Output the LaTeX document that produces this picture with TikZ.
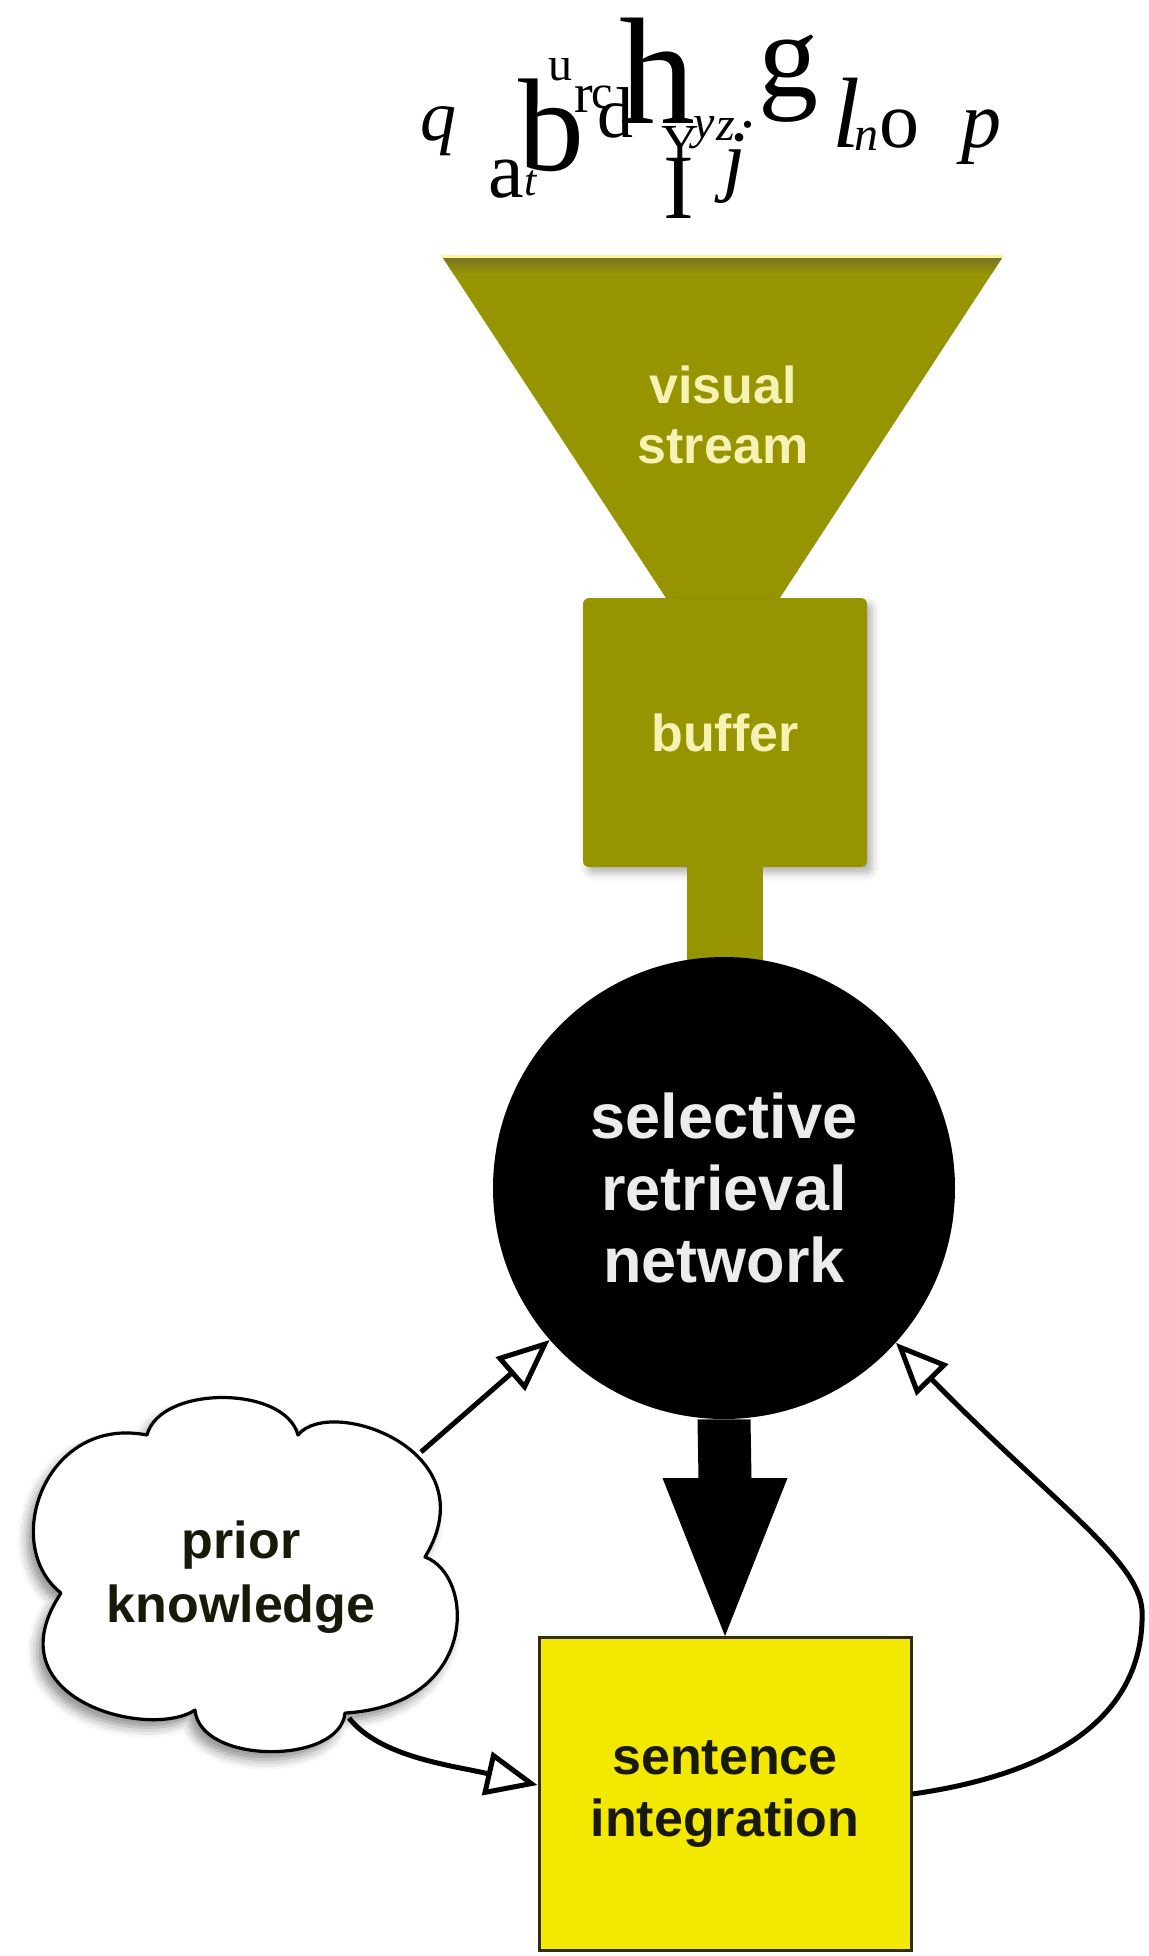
\documentclass[tikz,border=0pt]{standalone}
\usepackage{fontspec}
\setmainfont{Liberation Sans}
\newfontfamily\lserif{Liberation Serif}
\usetikzlibrary{arrows.meta,shadows.blur,calc}
\definecolor{olivebox}{RGB}{150,148,0}
\definecolor{olivedark}{RGB}{118,114,40}
\definecolor{paletop}{RGB}{250,246,160}
\definecolor{paletext}{RGB}{246,242,180}
\definecolor{sentyellow}{RGB}{243,233,0}
\definecolor{boxedge}{RGB}{50,46,0}
\definecolor{circtext}{RGB}{236,236,236}
\definecolor{labdark}{RGB}{25,25,10}
\begin{document}
\begin{tikzpicture}[x=0.5pt,y=-0.5pt,
  glyph/.style={anchor=base, inner sep=0pt, outer sep=0pt, text=black},
  openarrow/.style={line width=2.5pt, draw=black, -{Triangle[open, length=26pt 0 0, width=22pt 0 0]}},
  olivefunnel/.style={fill=olivebox},
  bufferbox/.style={fill=olivebox, rounded corners=3pt, minimum width=142pt, minimum height=134.5pt, inner sep=0pt,
     blur shadow={shadow xshift=2.5pt, shadow yshift=-3pt, shadow opacity=30, shadow blur radius=4pt},
     font=\bfseries\fontsize{26}{30}\selectfont, text=paletext},
  srncircle/.style={circle, fill=black, minimum size=231pt, inner sep=0pt, text=circtext, align=center,
     font=\bfseries\fontsize{31.5}{36}\selectfont},
  sentbox/.style={draw=boxedge, line width=1.5pt, fill=sentyellow, minimum width=186pt, minimum height=156.5pt,
     inner sep=0pt, align=center, text=labdark, font=\bfseries\fontsize{26}{31}\selectfont},
  cloudline/.style={draw=black, line width=1.6pt, line join=round, fill=white,
     blur shadow={shadow xshift=-3pt, shadow yshift=-4pt, shadow opacity=45, shadow blur radius=5pt}},
  cloudtext/.style={align=center, inner sep=0pt, text=labdark, font=\bfseries\fontsize{26}{32}\selectfont},
  funneltext/.style={align=center, inner sep=0pt, text=paletext, font=\bfseries\fontsize{26}{30}\selectfont},
]
\useasboundingbox (0,0) rectangle (1149,1956);

% ---- scattered letters ----
\node[glyph, font=\lserif\itshape\fontsize{36}{36}\selectfont] (lq) at (438,140) {q};
\node[glyph, font=\lserif\fontsize{40}{40}\selectfont] (la) at (506,197) {a};
\node[glyph, font=\lserif\itshape\fontsize{22}{22}\selectfont] (lt) at (531,195) {t};
\node[glyph, font=\lserif\fontsize{66}{66}\selectfont] (lb) at (551,170) {b};
\node[glyph, font=\lserif\fontsize{24}{24}\selectfont] (lu) at (560,80) {u};
\node[glyph, font=\lserif\fontsize{28}{28}\selectfont] (lr) at (584,112) {r};
\node[glyph, font=\lserif\fontsize{24}{24}\selectfont] (lc) at (602,108) {c};
\node[glyph, font=\lserif\fontsize{36}{36}\selectfont] (ld) at (615,137) {d};
\node[glyph, font=\lserif\fontsize{76}{76}\selectfont] (lh) at (657,123) {h};
\node[glyph, font=\lserif\fontsize{26}{26}\selectfont] (lY) at (680,160) {Y};
\node[glyph, font=\lserif\fontsize{46}{46}\selectfont] (lI) at (679,218) {I};
\node[glyph, font=\lserif\itshape\fontsize{24}{24}\selectfont] (ly) at (704,138) {y};
\node[glyph, font=\lserif\itshape\fontsize{24}{24}\selectfont] (lz) at (726,140) {z};
\node[glyph, font=\lserif\fontsize{30}{30}\selectfont] (ldot) at (748,127) {.};
\node[glyph, font=\lserif\itshape\fontsize{40}{40}\selectfont] (lj) at (735,186) {j};
\node[glyph, font=\lserif\fontsize{60}{60}\selectfont] (lg) at (788,96) {g};
\node[glyph, font=\lserif\itshape\fontsize{50}{50}\selectfont] (ll) at (846,147) {l};
\node[glyph, font=\lserif\itshape\fontsize{24}{24}\selectfont] (ln) at (866,150) {n};
\node[glyph, font=\lserif\fontsize{40}{40}\selectfont] (lo) at (899,147) {o};
\node[glyph, font=\lserif\itshape\fontsize{40}{40}\selectfont] (lp) at (981,147) {p};

% ---- funnel ----
\fill[olivefunnel] (443,258) -- (1002,258) -- (723,685) -- cycle;
\begin{scope}
  \clip (443,258) -- (1002,258) -- (723,685) -- cycle;
  \shade[top color=olivedark, bottom color=olivebox] (430,256) rectangle (1015,274);
\end{scope}
\draw[paletop, line width=1.2pt] (441,256.5) -- (1004,256.5);
\node[funneltext] (vs) at (723,414.5) {visual\\stream};

% ---- buffer ----
\node[bufferbox] (buf) at (725,732.5) {buffer};

% stem between buffer and circle (drawn before the circle)
\coordinate (srnc) at (724,1188);
\fill[olivebox] ($(buf.south)+(-38.5,-4)$) rectangle ($(srnc)+(38.5,0)$);

% ---- selective retrieval network ----
\node[srncircle] (srn) at (srnc) {selective\\retrieval\\network};

% ---- sentence integration ----
\node[sentbox] (sent) at (725,1794) {sentence\\integration};

% big black arrow
\fill[black] ($(srn.south)+(-26.5,0)$) -- ($(srn.south)+(26.5,0)$) -- ($(sent.north)+(26.5,-158)$)
  -- ($(sent.north)+(62.5,-158)$) -- (sent.north) -- ($(sent.north)+(-62.5,-158)$)
  -- ($(sent.north)+(-26.5,-158)$) -- cycle;

% ---- cloud: prior knowledge ----
\path[cloudline] (61,1593) .. controls (0,1545) and (45,1415) .. (147,1435)
  .. controls (160,1385) and (285,1385) .. (298,1435)
  .. controls (330,1395) and (490,1450) .. (425,1557)
  .. controls (475,1575) and (480,1705) .. (345,1713)
  .. controls (340,1765) and (200,1765) .. (195,1710)
  .. controls (150,1740) and (-10,1700) .. (61,1593) -- cycle;
\node[cloudtext] (pk) at (241,1577) {prior\\knowledge};
\coordinate (cne) at (421,1452);
\coordinate (cso) at (349,1718);

% ---- connectors ----
\draw[openarrow] (cne) -- (srn);
\draw[openarrow] (cso) .. controls (380,1757) and (450,1765) .. ([yshift=4.5pt]sent.west);
\draw[openarrow] (sent.east) .. controls (1080,1770) and (1145,1700) .. (1142,1610)
  .. controls (1139,1560) and (1050,1500) .. (srn.-42);
\end{tikzpicture}
\end{document}
